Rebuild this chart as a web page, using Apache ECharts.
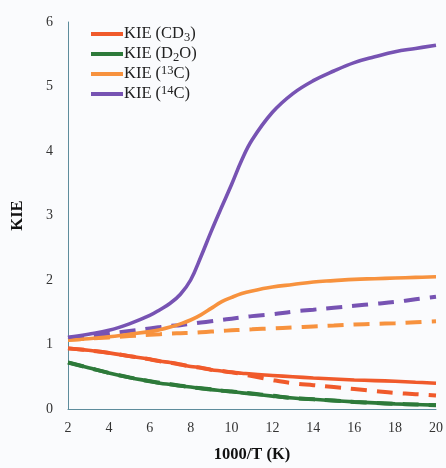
<!DOCTYPE html>
<html><head><meta charset="utf-8">
<script src="https://cdn.jsdelivr.net/npm/echarts@6/dist/echarts.min.js"></script>
<style>html,body{margin:0;padding:0;background:#fafbfd}#c{width:446px;height:468px}</style>
</head><body><div id="c"></div>
<script>
const xVals = [2,3,4,5,6,6.5,7,7.5,8,8.5,9,9.5,10,10.5,11,12,13,14,15,16,17,18,19,20];
const kieCD3   = [0.94,0.91,0.87,0.82,0.77,0.74,0.72,0.69,0.66,0.64,0.61,0.59,0.57,0.555,0.54,0.52,0.50,0.48,0.465,0.45,0.44,0.43,0.415,0.40];
const kieCD3d  = [0.94,0.91,0.87,0.82,0.77,0.74,0.72,0.69,0.66,0.64,0.61,0.59,0.57,0.54,0.51,0.45,0.40,0.37,0.34,0.31,0.28,0.25,0.23,0.21];
const kieD2O   = [0.72,0.64,0.56,0.49,0.43,0.40,0.38,0.36,0.34,0.32,0.30,0.285,0.27,0.25,0.235,0.20,0.17,0.15,0.13,0.11,0.095,0.08,0.07,0.06];
const kieD2Od  = [0.72,0.64,0.56,0.49,0.43,0.405,0.385,0.36,0.34,0.32,0.305,0.285,0.27,0.255,0.24,0.205,0.17,0.15,0.13,0.11,0.095,0.08,0.07,0.06];
const kie13C   = [1.07,1.09,1.12,1.16,1.20,1.23,1.27,1.32,1.38,1.46,1.56,1.66,1.73,1.79,1.83,1.89,1.93,1.97,1.99,2.01,2.02,2.03,2.04,2.05];
const kie13Cd  = [1.07,1.09,1.11,1.13,1.15,1.16,1.17,1.175,1.18,1.19,1.20,1.21,1.22,1.228,1.235,1.25,1.265,1.28,1.295,1.31,1.32,1.33,1.345,1.36];
const kie14C   = [1.11,1.16,1.22,1.32,1.45,1.54,1.64,1.78,2.00,2.36,2.75,3.12,3.48,3.86,4.17,4.60,4.89,5.09,5.24,5.37,5.46,5.54,5.59,5.64];
const kie14Cd  = [1.10,1.13,1.17,1.21,1.25,1.27,1.29,1.30,1.32,1.34,1.36,1.38,1.40,1.42,1.44,1.47,1.51,1.54,1.57,1.60,1.63,1.66,1.70,1.74];
const xTicks = {min:2,max:20,interval:2};
const yTicks = {min:0,max:6,interval:1};
const names = ['KIE (CD3)','KIE (D2O)','KIE (13C)','KIE (14C)'];
const legendRich = {'KIE (CD3)':'KIE (CD{sub|3})','KIE (D2O)':'KIE (D{sub|2}O)','KIE (13C)':'KIE ({sup|13}C)','KIE (14C)':'KIE ({sup|14}C)'};
const colors = ['#f05a2b','#2d7a3a','#f7923e','#7753b3'];

const pair = ys => xVals.map((x,i)=>[x,ys[i]]);
function line(name, ys, color, dashed){
  return {name, type:'line', data:pair(ys), smooth:0.4, symbol:'none',
    lineStyle:{color, width: dashed?4:3.6, type: dashed?[16,10]:'solid'},
    itemStyle:{color}, z: dashed?2:3};
}
const font = '"Liberation Serif","Times New Roman",serif';
const chart = echarts.init(document.getElementById('c'));
chart.setOption({
  backgroundColor:'#fafbfd',
  animation:false,
  grid:{left:68,right:9,top:22,bottom:55},
  legend:{data:names, left:86, top:19, orient:'vertical', itemGap:0, itemWidth:32, itemHeight:4,
    icon:'rect', formatter: n => legendRich[n],
    textStyle:{fontFamily:font, fontSize:16.5, lineHeight:20, color:'#222', padding:[0,0,0,-4],
      rich:{sub:{fontFamily:font, fontSize:12.5, lineHeight:12, verticalAlign:'bottom', color:'#222'},
            sup:{fontFamily:font, fontSize:12.5, lineHeight:12, verticalAlign:'top', color:'#222'}}}},
  xAxis:{type:'value', min:xTicks.min, max:xTicks.max, interval:xTicks.interval,
    name:'1000/T (K)', nameLocation:'middle', nameGap:37,
    nameTextStyle:{fontFamily:font, fontSize:16.5, fontWeight:'bold', color:'#111'},
    axisLine:{lineStyle:{color:'#5d8c9c', width:1}}, axisTick:{show:false},
    axisLabel:{fontFamily:font, fontSize:14, color:'#333', margin:12}, splitLine:{show:false}},
  yAxis:{type:'value', min:yTicks.min, max:yTicks.max, interval:yTicks.interval,
    name:'KIE', nameLocation:'middle', nameGap:42, nameRotate:90,
    nameTextStyle:{fontFamily:font, fontSize:16.5, fontWeight:'bold', color:'#111'},
    axisLine:{show:true, lineStyle:{color:'#5d8c9c', width:1}}, axisTick:{show:false},
    axisLabel:{fontFamily:font, fontSize:14, color:'#333', margin:15}, splitLine:{show:false}},
  series:[
    line(names[0], kieCD3, colors[0], false),
    line('cd3d', kieCD3d, colors[0], true),
    line(names[1], kieD2O, colors[1], false),
    line('d2od', kieD2Od, colors[1], true),
    line(names[2], kie13C, colors[2], false),
    line('13cd', kie13Cd, colors[2], true),
    line(names[3], kie14C, colors[3], false),
    line('14cd', kie14Cd, colors[3], true)
  ]
});
</script></body></html>
